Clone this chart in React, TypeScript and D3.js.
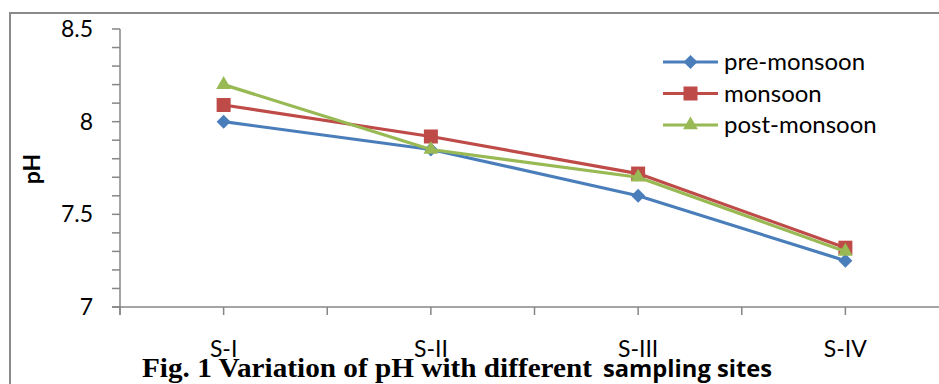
import React from "react";
import * as d3 from "d3";

const sites = ["S-I", "S-II", "S-III", "S-IV"];
const preMonsoon = [8.0, 7.85, 7.6, 7.25];
const monsoon = [8.09, 7.92, 7.72, 7.32];
const postMonsoon = [8.2, 7.85, 7.7, 7.3];
const yTicks = [7, 7.5, 8, 8.5];
const seriesNames = ["pre-monsoon", "monsoon", "post-monsoon"];

const colors = ["#4a7ebb", "#be4b48", "#98b954"];
const markers = ["diamond", "square", "triangle"];

const App = () => {
  const width = 939;
  const height = 384;
  // plot area runs a bit past the right edge, like the cropped original
  const margin = { left: 120, top: 29, right: -10, bottom: 77 };
  const series = [preMonsoon, monsoon, postMonsoon];

  const xScale = d3
    .scaleBand()
    .domain(sites)
    .range([margin.left, width - margin.right])
    .padding(0);

  const yScale = d3
    .scaleLinear()
    .domain([7, 8.5])
    .range([height - margin.bottom, margin.top]);

  const bw = xScale.bandwidth();
  const cx = (s: string) => (xScale(s) as number) + bw / 2;

  const line = d3
    .line<number>()
    .x((d, i) => cx(sites[i]))
    .y((d) => yScale(d));

  const minorTicks = d3.range(70, 86).map((v) => v / 10);
  const xTicks = d3.range(0, sites.length * 2 + 1).map((i) => margin.left + (i * bw) / 2);

  const marker = (kind: string, x: number, y: number, color: string, key: any) => {
    if (kind === "diamond") {
      const r = 7;
      return (
        <path key={key} d={`M${x},${y - r}L${x + r},${y}L${x},${y + r}L${x - r},${y}Z`} fill={color} />
      );
    }
    if (kind === "square") {
      return <rect key={key} x={x - 7} y={y - 7} width={14} height={14} fill={color} />;
    }
    const s = d3.symbol().type(d3.symbolTriangle).size(95)();
    return <path key={key} d={s as string} transform={`translate(${x},${y})`} fill={color} />;
  };

  const axisColor = "#868686";
  const font = "Lato, 'Open Sans', sans-serif";
  const y0 = yScale(7);

  return (
    <svg
      width={width}
      height={height}
      style={{ position: "absolute", left: 0, top: 0, background: "#fff" }}
    >
      {/* outer chart frame (bottom and right are cropped off) */}
      <path d={`M10,${height}V13H${width}`} fill="none" stroke="#8a8a8a" strokeWidth={2} />

      {/* y axis */}
      <line x1={margin.left} x2={margin.left} y1={yScale(8.5)} y2={y0 + 8} stroke={axisColor} strokeWidth={1.5} />
      {minorTicks.map((t) => (
        <line key={t} x1={margin.left - 8} x2={margin.left} y1={yScale(t)} y2={yScale(t)} stroke={axisColor} strokeWidth={1.5} />
      ))}
      {yTicks.map((t) => (
        <text key={t} x={93} y={yScale(t)} dy="0.35em" textAnchor="end" fontFamily={font} fontSize={23} fill="#000">
          {t}
        </text>
      ))}
      <text
        transform={`translate(40,169) rotate(-90)`}
        textAnchor="middle"
        fontFamily={font}
        fontWeight="bold"
        fontSize={23}
      >
        pH
      </text>

      {/* x axis */}
      <line x1={margin.left - 8} x2={width} y1={y0} y2={y0} stroke={axisColor} strokeWidth={1.5} />
      {xTicks.map((x, i) => (
        <line key={i} x1={x} x2={x} y1={y0} y2={y0 + 8} stroke={axisColor} strokeWidth={1.5} />
      ))}
      {sites.map((s) => (
        <text key={s} x={cx(s)} y={357} textAnchor="middle" fontFamily={font} fontSize={23} fill="#000">
          {s}
        </text>
      ))}

      {/* series */}
      {series.map((d, si) => (
        <g key={si}>
          <path d={line(d) as string} fill="none" stroke={colors[si]} strokeWidth={3.2} strokeLinejoin="round" />
          {d.map((v, i) => marker(markers[si], cx(sites[i]), yScale(v), colors[si], i))}
        </g>
      ))}

      {/* legend */}
      {seriesNames.map((n, i) => {
        const ly = 62 + i * 31.5;
        return (
          <g key={n}>
            <line x1={663} x2={718} y1={ly} y2={ly} stroke={colors[i]} strokeWidth={3.2} />
            {marker(markers[i], 690.5, ly, colors[i], "m")}
            <text x={724} y={ly} dy="0.35em" fontFamily={font} fontSize={24} fill="#000">
              {n}
            </text>
          </g>
        );
      })}

      {/* caption */}
      <text
        x={142}
        y={377}
        fontFamily="'Liberation Serif', 'Times New Roman', serif"
        fontWeight="bold"
        fontSize={26.5}
        textLength={450}
        lengthAdjust="spacingAndGlyphs"
      >
        Fig. 1 Variation of pH with different
      </text>
      <text
        x={603}
        y={377}
        fontFamily="'Open Sans', sans-serif"
        fontWeight="bold"
        fontSize={24}
        textLength={169}
        lengthAdjust="spacingAndGlyphs"
      >
        sampling sites
      </text>
    </svg>
  );
};

export default App;
